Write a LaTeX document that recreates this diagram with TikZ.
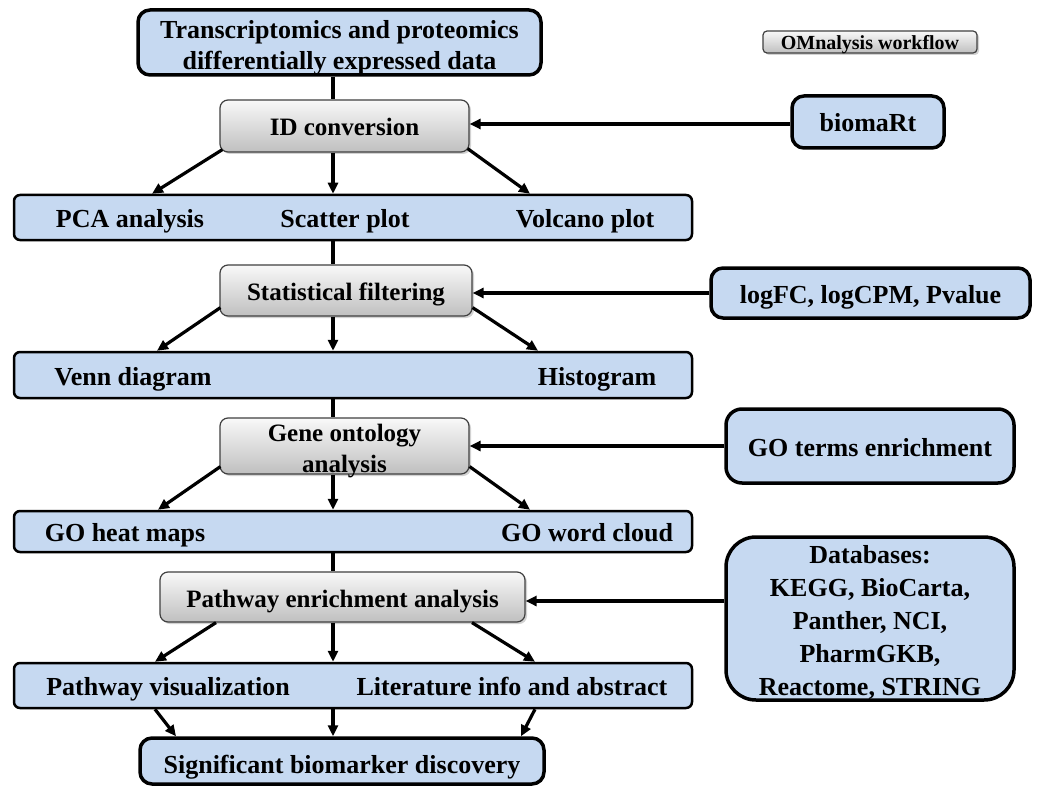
\documentclass[tikz,border=0pt]{standalone}
\usepackage{fontspec}
\setmainfont{Liberation Serif}
\usetikzlibrary{shadows,arrows.meta,calc}
\definecolor{boxblue}{HTML}{C6D9F1}
\tikzset{
  txt/.style={font=\fontsize{26}{31}\selectfont\bfseries, align=center, inner sep=0pt},
  oneline/.style={text height=20pt, text depth=0pt},
  bluebox/.style={txt, draw=black, line width=3.5pt, rounded corners=12pt, fill=boxblue},
  bar/.style={draw=black, line width=2.5pt, rounded corners=6pt, fill=boxblue, inner sep=0pt},
  graybox/.style={txt, font=\fontsize{25}{31}\selectfont\bfseries, draw=black!75, line width=1.2pt, rounded corners=8pt,
    top color=gray!5, bottom color=gray!50,
    drop shadow={shadow xshift=2pt, shadow yshift=-2pt, opacity=0.35}},
  lbl/.style={txt, oneline, anchor=center},
  arr/.style={-{Triangle[length=11pt,width=10pt]}, line width=3.2pt},
  link/.style={line width=3.2pt},
}
\begin{document}
\begin{tikzpicture}[x=1pt,y=-1pt]
\useasboundingbox[fill=white] (0,0) rectangle (1040,786);

% top & side boxes
\node[bluebox, text height=55pt, text depth=0pt, minimum width=403pt, minimum height=65pt] (top) at (339.5,42.5)
  {Transcriptomics and proteomics\\differentially expressed data};
\node[graybox, font=\fontsize{20}{22}\selectfont\bfseries, text height=15pt, text depth=0pt, minimum width=214pt, minimum height=22pt, rounded corners=4pt] (om) at (870,42) {OMnalysis workflow};
\node[bluebox, oneline, minimum width=152pt, minimum height=52pt] (bio) at (868,122) {biomaRt};
\node[bluebox, oneline, minimum width=319pt, minimum height=50pt] (log) at (870.5,293) {logFC, logCPM, Pvalue};
\node[bluebox, oneline, minimum width=288pt, minimum height=74pt, rounded corners=16pt] (got) at (870,446) {GO terms enrichment};
\node[bluebox, text height=153pt, text depth=0pt, minimum width=288pt, minimum height=163pt, rounded corners=30pt, font=\fontsize{26}{33}\selectfont\bfseries] (db) at (870,618.5)
  {Databases:\\KEGG, BioCarta,\\Panther, NCI,\\PharmGKB,\\Reactome, STRING};

% gray process boxes
\node[graybox, oneline, minimum width=249pt, minimum height=52pt] (id) at (344.5,126) {ID conversion};
\node[graybox, oneline, minimum width=252pt, minimum height=51pt] (stat) at (346,290.5) {Statistical filtering};
\node[graybox, text height=52pt, text depth=0pt, minimum width=249pt, minimum height=56pt] (go) at (344.5,446) {Gene ontology\\analysis};
\node[graybox, oneline, minimum width=365pt, minimum height=50pt] (path) at (342.5,597) {Pathway enrichment analysis};

% bars
\node[bar, minimum width=678pt, minimum height=45pt] (bar1) at (353,217.5) {};
\node[bar, minimum width=678pt, minimum height=46pt] (bar2) at (353,375) {};
\node[bar, minimum width=678pt, minimum height=41pt] (bar3) at (353,531.5) {};
\node[bar, minimum width=678pt, minimum height=45pt] (bar4) at (353,685.5) {};

\node[lbl] (pca) at (130,217.5) {PCA analysis};
\node[lbl] (scatter) at (345,217.5) {Scatter plot};
\node[lbl] (volcano) at (585,217.5) {Volcano plot};
\node[lbl] (venn) at (133,375) {Venn diagram};
\node[lbl] (hist) at (597,375) {Histogram};
\node[lbl] (goheat) at (125,531.5) {GO heat maps};
\node[lbl] (goword) at (587,531.5) {GO word cloud};
\node[lbl] (pviz) at (168,685.5) {Pathway visualization};
\node[lbl] (lit) at (512,685.5) {Literature info and abstract};

% final
\node[bluebox, text height=24pt, text depth=0pt, minimum width=404pt, minimum height=46pt] (final) at (342,761) {Significant biomarker discovery};

% vertical links
\draw[link] (333,0 |- top.south) -- (333,0 |- id.north);
\draw[link] (333,0 |- bar1.south) -- (333,0 |- stat.north);
\draw[link] (333,0 |- bar2.south) -- (333,0 |- go.north);
\draw[link] (333,0 |- bar3.south) -- (333,0 |- path.north);

% side arrows
\draw[arr] (bio.west |- 0,124) -- (id.east |- 0,124);
\draw[arr] (log.west |- 0,293) -- (stat.east |- 0,293);
\draw[arr] (got.west |- 0,446) -- (go.east |- 0,446);
\draw[arr] (db.west |- 0,601) -- (path.east |- 0,601);

% fan-out arrows
\draw[arr] ($(id.south west)+(3,-3)$) -- (152,0 |- bar1.north);
\draw[arr] (333,0 |- id.south) -- (333,0 |- bar1.north);
\draw[arr] ($(id.south east)+(-2,-4)$) -- (530,0 |- bar1.north);

\draw[arr] ($(stat.south west)+(1,-9)$) -- (157,0 |- bar2.north);
\draw[arr] (333,0 |- stat.south) -- (333,0 |- bar2.north);
\draw[arr] ($(stat.south east)+(0,-9)$) -- (538,0 |- bar2.north);

\draw[arr] ($(go.south west)+(1,-8)$) -- (158,0 |- bar3.north);
\draw[arr] (333,0 |- go.south) -- (333,0 |- bar3.north);
\draw[arr] ($(go.south east)+(0,-8)$) -- (530,0 |- bar3.north);

\draw[arr] (216,0 |- path.south) -- (155,0 |- bar4.north);
\draw[arr] (333,0 |- path.south) -- (333,0 |- bar4.north);
\draw[arr] (472,0 |- path.south) -- (535,0 |- bar4.north);

\draw[arr] (155,0 |- bar4.south) -- (176,0 |- final.north);
\draw[arr] (333,0 |- bar4.south) -- (333,0 |- final.north);
\draw[arr] (535,0 |- bar4.south) -- (521,0 |- final.north);
\end{tikzpicture}
\end{document}
